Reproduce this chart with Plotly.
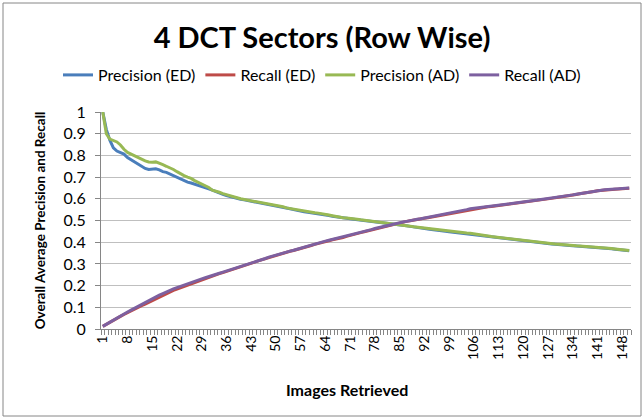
import plotly.graph_objects as go

images = list(range(1, 151))

precision_ed = [
    1.0, 0.92, 0.87, 0.835, 0.82, 0.814, 0.806, 0.79, 0.78, 0.768,
    0.76, 0.748, 0.74, 0.735, 0.735, 0.738, 0.733, 0.725, 0.722, 0.714,
    0.707, 0.699, 0.69, 0.684, 0.677, 0.673, 0.668, 0.664, 0.658, 0.652,
    0.646, 0.64, 0.633, 0.625, 0.62, 0.615, 0.61, 0.605, 0.601, 0.598,
    0.595, 0.592, 0.589, 0.586, 0.583, 0.58, 0.577, 0.574, 0.571, 0.569,
    0.566, 0.562, 0.558, 0.554, 0.55, 0.546, 0.543, 0.54, 0.538, 0.536,
    0.534, 0.532, 0.53, 0.527, 0.523, 0.52, 0.517, 0.514, 0.512, 0.51,
    0.508, 0.506, 0.504, 0.502, 0.5, 0.498, 0.496, 0.494, 0.492, 0.49,
    0.489, 0.488, 0.487, 0.485, 0.482, 0.479, 0.476, 0.473, 0.47, 0.468,
    0.465, 0.463, 0.461, 0.459, 0.456, 0.454, 0.452, 0.45, 0.448, 0.446,
    0.444, 0.442, 0.44, 0.439, 0.438, 0.436, 0.434, 0.431, 0.429, 0.427,
    0.425, 0.423, 0.421, 0.419, 0.417, 0.415, 0.413, 0.411, 0.409, 0.407,
    0.405, 0.403, 0.401, 0.399, 0.397, 0.395, 0.394, 0.392, 0.391, 0.389,
    0.388, 0.386, 0.385, 0.384, 0.383, 0.382, 0.38, 0.379, 0.378, 0.377,
    0.376, 0.375, 0.374, 0.372, 0.37, 0.368, 0.366, 0.364, 0.362, 0.361,
]

recall_ed = [
    0.012, 0.022, 0.031, 0.04, 0.049, 0.058, 0.067, 0.076, 0.084, 0.092,
    0.1, 0.108, 0.115, 0.123, 0.132, 0.141, 0.149, 0.156, 0.164, 0.171,
    0.178, 0.184, 0.19, 0.197, 0.203, 0.209, 0.216, 0.222, 0.228, 0.234,
    0.24, 0.245, 0.25, 0.255, 0.26, 0.265, 0.27, 0.275, 0.281, 0.286,
    0.292, 0.297, 0.303, 0.308, 0.314, 0.319, 0.325, 0.33, 0.335, 0.34,
    0.346, 0.35, 0.354, 0.358, 0.362, 0.366, 0.371, 0.375, 0.38, 0.385,
    0.39, 0.395, 0.399, 0.403, 0.407, 0.411, 0.414, 0.418, 0.422, 0.427,
    0.432, 0.436, 0.44, 0.444, 0.448, 0.452, 0.456, 0.461, 0.465, 0.469,
    0.474, 0.478, 0.483, 0.487, 0.49, 0.493, 0.496, 0.499, 0.501, 0.505,
    0.507, 0.51, 0.513, 0.516, 0.519, 0.522, 0.525, 0.528, 0.531, 0.534,
    0.537, 0.54, 0.543, 0.547, 0.551, 0.554, 0.556, 0.558, 0.56, 0.563,
    0.565, 0.567, 0.57, 0.572, 0.575, 0.577, 0.579, 0.581, 0.583, 0.585,
    0.587, 0.589, 0.591, 0.593, 0.595, 0.597, 0.6, 0.602, 0.605, 0.607,
    0.609, 0.611, 0.614, 0.617, 0.62, 0.623, 0.625, 0.628, 0.631, 0.634,
    0.637, 0.639, 0.641, 0.642, 0.643, 0.644, 0.645, 0.646, 0.647, 0.649,
]

precision_ad = [
    1.0, 0.9, 0.875, 0.868, 0.862, 0.848, 0.828, 0.814, 0.806, 0.798,
    0.79, 0.783, 0.775, 0.77, 0.768, 0.77, 0.765, 0.757, 0.75, 0.743,
    0.735, 0.725, 0.715, 0.707, 0.7, 0.694, 0.684, 0.676, 0.666, 0.658,
    0.652, 0.64, 0.636, 0.63, 0.624, 0.62, 0.614, 0.61, 0.605, 0.6,
    0.597, 0.593, 0.59, 0.588, 0.585, 0.581, 0.578, 0.575, 0.573, 0.57,
    0.568, 0.563, 0.558, 0.555, 0.551, 0.548, 0.545, 0.542, 0.54, 0.538,
    0.536, 0.534, 0.532, 0.529, 0.525, 0.522, 0.518, 0.515, 0.513, 0.511,
    0.51, 0.508, 0.506, 0.503, 0.501, 0.499, 0.497, 0.496, 0.494, 0.492,
    0.49, 0.489, 0.487, 0.484, 0.481, 0.479, 0.476, 0.474, 0.471, 0.469,
    0.466, 0.464, 0.462, 0.46, 0.457, 0.455, 0.453, 0.451, 0.449, 0.447,
    0.445, 0.444, 0.443, 0.442, 0.441, 0.438, 0.435, 0.432, 0.43, 0.428,
    0.426, 0.424, 0.422, 0.42, 0.418, 0.416, 0.414, 0.412, 0.41, 0.408,
    0.406, 0.404, 0.402, 0.4, 0.399, 0.397, 0.395, 0.394, 0.392, 0.391,
    0.389, 0.388, 0.387, 0.385, 0.384, 0.383, 0.382, 0.381, 0.38, 0.379,
    0.378, 0.377, 0.375, 0.373, 0.371, 0.369, 0.367, 0.365, 0.363, 0.362,
]

recall_ad = [
    0.012, 0.022, 0.031, 0.042, 0.052, 0.061, 0.069, 0.078, 0.087, 0.096,
    0.104, 0.113, 0.121, 0.129, 0.138, 0.148, 0.156, 0.163, 0.171, 0.178,
    0.185, 0.191, 0.197, 0.203, 0.21, 0.216, 0.221, 0.227, 0.231, 0.236,
    0.242, 0.245, 0.251, 0.257, 0.262, 0.267, 0.272, 0.278, 0.283, 0.287,
    0.293, 0.298, 0.304, 0.31, 0.315, 0.32, 0.325, 0.331, 0.336, 0.341,
    0.347, 0.351, 0.354, 0.359, 0.363, 0.368, 0.372, 0.376, 0.382, 0.387,
    0.392, 0.397, 0.401, 0.405, 0.409, 0.413, 0.416, 0.419, 0.424, 0.428,
    0.434, 0.438, 0.442, 0.446, 0.45, 0.454, 0.458, 0.463, 0.467, 0.471,
    0.475, 0.48, 0.484, 0.487, 0.49, 0.493, 0.496, 0.5, 0.502, 0.506,
    0.508, 0.511, 0.515, 0.518, 0.52, 0.523, 0.526, 0.529, 0.532, 0.535,
    0.538, 0.542, 0.546, 0.55, 0.554, 0.556, 0.557, 0.559, 0.561, 0.564,
    0.566, 0.569, 0.571, 0.573, 0.576, 0.578, 0.58, 0.582, 0.584, 0.586,
    0.588, 0.59, 0.592, 0.594, 0.597, 0.599, 0.601, 0.604, 0.606, 0.609,
    0.61, 0.613, 0.616, 0.618, 0.621, 0.624, 0.627, 0.63, 0.633, 0.635,
    0.638, 0.641, 0.642, 0.643, 0.644, 0.645, 0.646, 0.647, 0.648, 0.65,
]

x_tick_vals = [1, 8, 15, 22, 29, 36, 43, 50, 57, 64, 71, 78, 85, 92, 99,
               106, 113, 120, 127, 134, 141, 148]
y_tick_vals = [0, 0.1, 0.2, 0.3, 0.4, 0.5, 0.6, 0.7, 0.8, 0.9, 1.0]
y_tick_text = ["0", "0.1", "0.2", "0.3", "0.4", "0.5", "0.6", "0.7", "0.8", "0.9", "1"]

series_names = ["Precision (ED)", "Recall (ED)", "Precision (AD)", "Recall (AD)"]
series_data = [precision_ed, recall_ed, precision_ad, recall_ad]
series_colors = ["#4A7EBB", "#BE4B48", "#98B954", "#7D60A0"]

FONT = "Lato, 'Open Sans', sans-serif"

fig = go.Figure()
for name, vals, col in zip(series_names, series_data, series_colors):
    fig.add_trace(go.Scatter(
        x=images, y=vals, name=name, mode="lines",
        line=dict(color=col, width=3),
    ))

L, R, T, B = 101, 13, 112, 90
W, H = 644, 419
pw, ph = W - L - R, H - T - B

def px(xp):
    return (xp - L) / pw

def py(yp):
    return (H - B - yp) / ph

fig.update_layout(
    width=W, height=H,
    margin=dict(l=L, r=R, t=T, b=B, autoexpand=False),
    paper_bgcolor="white", plot_bgcolor="white",
    font=dict(family=FONT, color="#000000"),
    title=dict(text="<b>4 DCT Sectors (Row Wise)</b>", x=0.5, xanchor="center",
               y=1 - 38 / H, yanchor="middle",
               font=dict(size=29, family=FONT, color="#000000")),
    showlegend=True,
    legend=dict(orientation="h", x=0.5, xanchor="center",
                xref="container", y=1 - 75 / H, yanchor="middle", yref="container",
                font=dict(size=16, family=FONT), itemwidth=30,
                bgcolor="rgba(0,0,0,0)"),
    xaxis=dict(
        range=[0.5, 150.5], tickmode="array", tickvals=x_tick_vals,
        ticktext=[str(v) for v in x_tick_vals], tickangle=-90,
        ticks="", showgrid=False, zeroline=False,
        showline=True, linecolor="#868686", linewidth=1,
        tickfont=dict(size=14, family=FONT),
        minor=dict(ticks="outside", tick0=0.5, dtick=1, ticklen=5,
                   tickcolor="#868686", tickwidth=1, showgrid=False),
    ),
    yaxis=dict(
        range=[0, 1], tickmode="array", tickvals=y_tick_vals, ticktext=y_tick_text,
        showgrid=True, gridcolor="#BFBFBF", gridwidth=1, zeroline=False,
        showline=True, linecolor="#868686", linewidth=1,
        ticks="outside", ticklen=5, tickcolor="#868686",
        ticklabelstandoff=6,
        tickfont=dict(size=16, family=FONT),
        title=dict(text="<b>Overall Average Precision and Recall</b>",
                   font=dict(size=13.5, family=FONT), standoff=14),
    ),
    annotations=[dict(text="<b>Images Retrieved</b>", xref="paper", yref="paper",
                      x=px(347), y=py(389), xanchor="center", yanchor="middle",
                      showarrow=False, font=dict(size=16, family=FONT))],
    shapes=[dict(type="rect", xref="paper", yref="paper",
                 x0=px(3), x1=px(641), y0=py(416), y1=py(3),
                 line=dict(color="#868686", width=1), fillcolor="rgba(0,0,0,0)",
                 layer="below")],
)

fig.write_html("out.html", config={"displayModeBar": False},
               post_script="document.body.style.margin='0';")
